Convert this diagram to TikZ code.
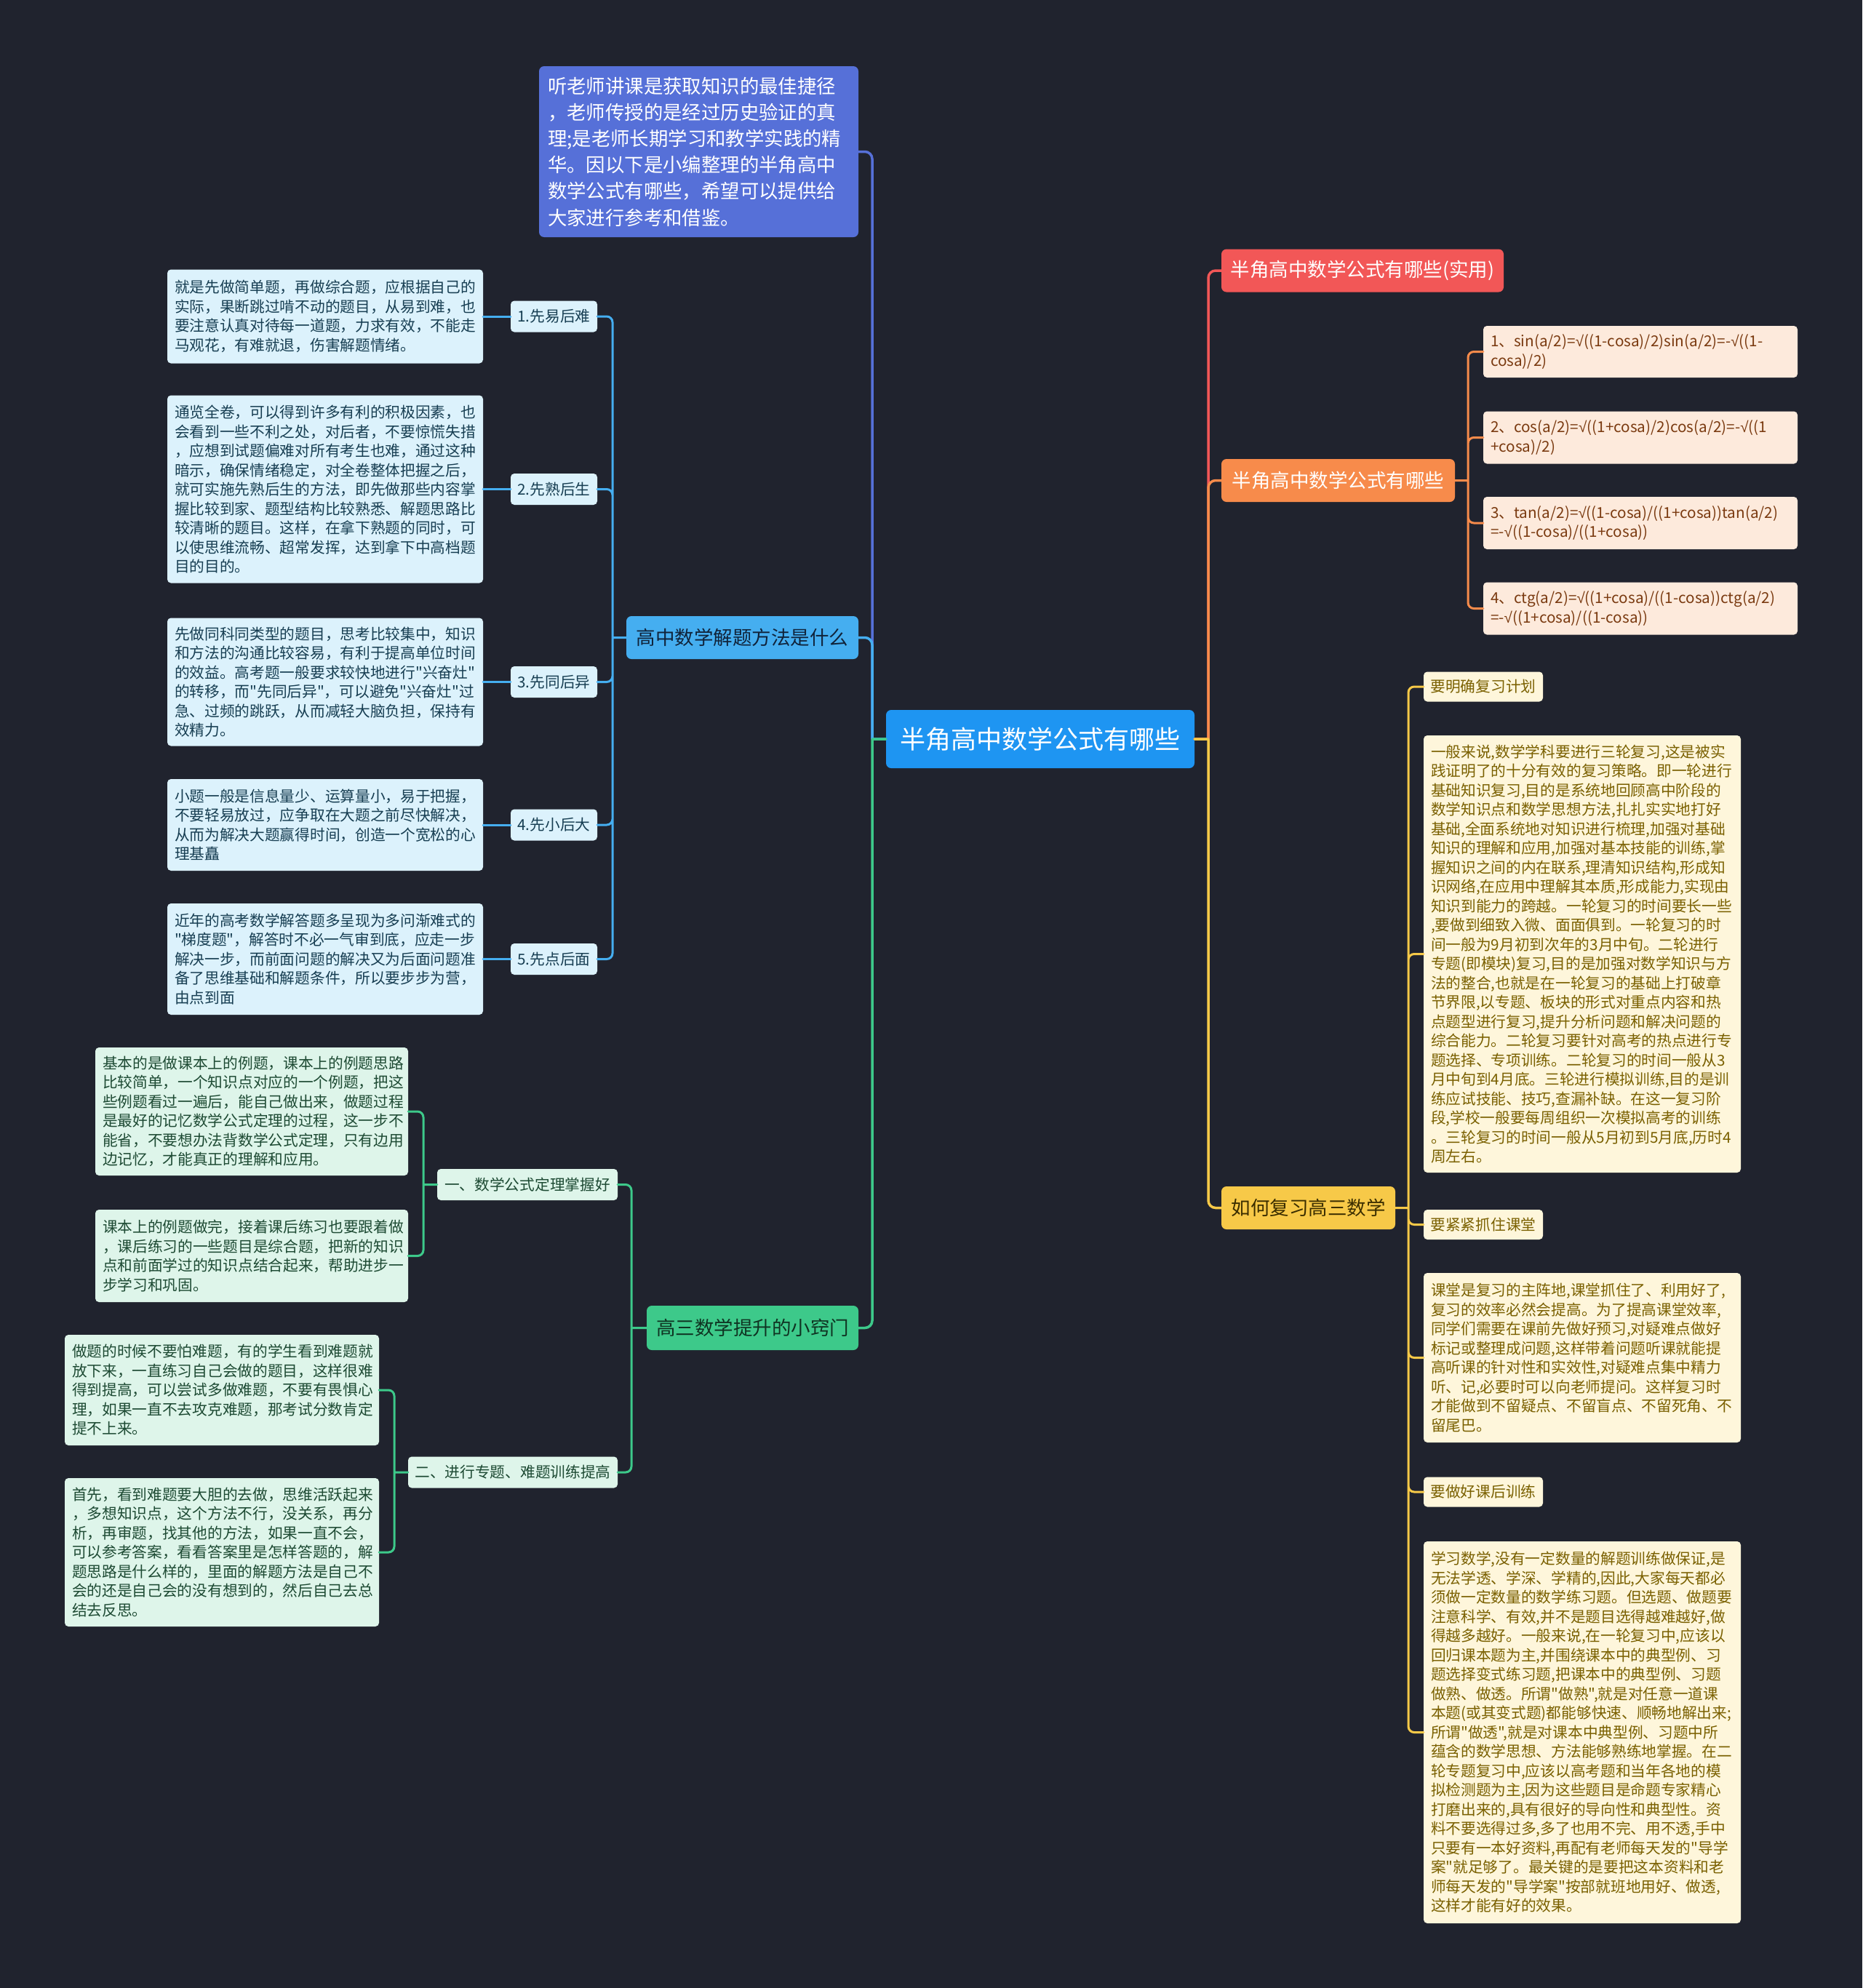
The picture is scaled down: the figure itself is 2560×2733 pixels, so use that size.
\documentclass[tikz,border=0pt]{standalone}
\usepackage{fontspec}
\setmainfont{Noto Sans CJK SC}[Ligatures=TeXOff]
\newfontfamily\rootfont{Liberation Sans}
\newcommand{\rt}{{\rootfont √}}
\parindent=0pt
\definecolor{bgc}{HTML}{20232E}
\definecolor{ctrblue}{HTML}{1E95F2}
\definecolor{introblue}{HTML}{5670D8}
\definecolor{skyblue}{HTML}{45AEF0}
\definecolor{skylight}{HTML}{DCF2FC}
\definecolor{skytext}{HTML}{173E52}
\definecolor{skydark}{HTML}{10233A}
\definecolor{mint}{HTML}{3DC98A}
\definecolor{mintlight}{HTML}{DEF5EA}
\definecolor{minttext}{HTML}{1D4A33}
\definecolor{mintdark}{HTML}{0F3322}
\definecolor{redc}{HTML}{F25757}
\definecolor{orangec}{HTML}{F78B4B}
\definecolor{peach}{HTML}{FDEADC}
\definecolor{peachtext}{HTML}{7A3A10}
\definecolor{yellowc}{HTML}{F7C948}
\definecolor{yellowdark}{HTML}{3B2E00}
\definecolor{cream}{HTML}{FEF6DB}
\definecolor{creamtext}{HTML}{7A6000}
\begin{document}
\begin{tikzpicture}[x=1pt, y=-1pt, line cap=round,
  box/.style={rounded corners=7pt, inner sep=0pt},
  ctrbox/.style={box, fill=ctrblue, text=white, font=\fontsize{35}{42}\selectfont, minimum width=424, minimum height=80},
  mainbox/.style={box, font=\fontsize{26.5}{32}\selectfont, minimum height=59},
  leafbox/.style={box, rounded corners=5pt, font=\fontsize{20.7}{26.5}\selectfont, minimum height=43},
  notebox/.style={box, rounded corners=5pt, font=\fontsize{20.7}{26.5}\selectfont, align=left, inner xsep=10pt},
  link/.style={line width=3.5pt, rounded corners=10pt},
  sublink/.style={line width=3pt, rounded corners=8pt}]
  \fill[bgc] (0,0) rectangle (2560,2733);
  \useasboundingbox (0,0) rectangle (2560,2733);

  \node[ctrbox] (ctr) at (1430,1016) {半角高中数学公式有哪些};

  % left side
  \node[box, fill=introblue, text=white, font=\fontsize{26.4}{36.2}\selectfont, align=left, inner xsep=12pt, text width=415pt, minimum height=235] (intro) at (960.5,208.5) {听老师讲课是获取知识的最佳捷径\\，老师传授的是经过历史验证的真\\理;是老师长期学习和教学实践的精\\华。因以下是小编整理的半角高中\\数学公式有哪些，希望可以提供给\\大家进行参考和借鉴。};
  \node[mainbox, fill=skyblue, text=skydark, minimum width=319] (solve) at (1020.5,876.5) {高中数学解题方法是什么};
  \node[mainbox, fill=mint, text=mintdark, minimum width=291, minimum height=61] (tips) at (1034.5,1825.5) {高三数学提升的小窍门};

  \node[leafbox, fill=skylight, text=skytext, minimum width=119] (s1) at (761.5,435) {1.先易后难};
  \node[leafbox, fill=skylight, text=skytext, minimum width=119] (s2) at (761.5,672.5) {2.先熟后生};
  \node[leafbox, fill=skylight, text=skytext, minimum width=119] (s3) at (761.5,937.5) {3.先同后异};
  \node[leafbox, fill=skylight, text=skytext, minimum width=119] (s4) at (761.5,1134) {4.先小后大};
  \node[leafbox, fill=skylight, text=skytext, minimum width=119] (s5) at (761.5,1318.5) {5.先点后面};

  \node[notebox, fill=skylight, text=skytext, text width=414pt, minimum height=129] (d1) at (447,435) {就是先做简单题，再做综合题，应根据自己的\\实际，果断跳过啃不动的题目，从易到难，也\\要注意认真对待每一道题，力求有效，不能走\\马观花，有难就退，伤害解题情绪。};
  \node[notebox, fill=skylight, text=skytext, text width=414pt, minimum height=258] (d2) at (447,672.5) {通览全卷，可以得到许多有利的积极因素，也\\会看到一些不利之处，对后者，不要惊慌失措\\，应想到试题偏难对所有考生也难，通过这种\\暗示，确保情绪稳定，对全卷整体把握之后，\\就可实施先熟后生的方法，即先做那些内容掌\\握比较到家、题型结构比较熟悉、解题思路比\\较清晰的题目。这样，在拿下熟题的同时，可\\以使思维流畅、超常发挥，达到拿下中高档题\\目的目的。};
  \node[notebox, fill=skylight, text=skytext, text width=414pt, minimum height=176] (d3) at (447,937.5) {先做同科同类型的题目，思考比较集中，知识\\和方法的沟通比较容易，有利于提高单位时间\\的效益。高考题一般要求较快地进行"兴奋灶"\\的转移，而"先同后异"，可以避免"兴奋灶"过\\急、过频的跳跃，从而减轻大脑负担，保持有\\效精力。};
  \node[notebox, fill=skylight, text=skytext, text width=414pt, minimum height=126] (d4) at (447,1134) {小题一般是信息量少、运算量小，易于把握，\\不要轻易放过，应争取在大题之前尽快解决，\\从而为解决大题赢得时间，创造一个宽松的心\\理基矗};
  \node[notebox, fill=skylight, text=skytext, text width=414pt, minimum height=153] (d5) at (447,1318.5) {近年的高考数学解答题多呈现为多问渐难式的\\"梯度题"，解答时不必一气审到底，应走一步\\解决一步，而前面问题的解决又为后面问题准\\备了思维基础和解题条件，所以要步步为营，\\由点到面};

  \node[leafbox, fill=mintlight, text=minttext, minimum width=248] (g1) at (725,1628.5) {一、数学公式定理掌握好};
  \node[leafbox, fill=mintlight, text=minttext, minimum width=288] (g2) at (705,2024) {二、进行专题、难题训练提高};
  \node[notebox, fill=mintlight, text=minttext, text width=410pt, minimum height=176] (ga) at (346,1528) {基本的是做课本上的例题，课本上的例题思路\\比较简单，一个知识点对应的一个例题，把这\\些例题看过一遍后，能自己做出来，做题过程\\是最好的记忆数学公式定理的过程，这一步不\\能省，不要想办法背数学公式定理，只有边用\\边记忆，才能真正的理解和应用。};
  \node[notebox, fill=mintlight, text=minttext, text width=410pt, minimum height=127] (gb) at (346,1726.5) {课本上的例题做完，接着课后练习也要跟着做\\，课后练习的一些题目是综合题，把新的知识\\点和前面学过的知识点结合起来，帮助进步一\\步学习和巩固。};
  \node[notebox, fill=mintlight, text=minttext, text width=412pt, minimum height=152] (gc) at (305,1911) {做题的时候不要怕难题，有的学生看到难题就\\放下来，一直练习自己会做的题目，这样很难\\得到提高，可以尝试多做难题，不要有畏惧心\\理，如果一直不去攻克难题，那考试分数肯定\\提不上来。};
  \node[notebox, fill=mintlight, text=minttext, text width=412pt, minimum height=204] (gd) at (305,2134) {首先，看到难题要大胆的去做，思维活跃起来\\，多想知识点，这个方法不行，没关系，再分\\析，再审题，找其他的方法，如果一直不会，\\可以参考答案，看看答案里是怎样答题的，解\\题思路是什么样的，里面的解题方法是自己不\\会的还是自己会的没有想到的，然后自己去总\\结去反思。};

  % right side
  \node[mainbox, fill=redc, text=white, minimum width=388] (red) at (1873,372) {半角高中数学公式有哪些(实用)};
  \node[mainbox, fill=orangec, text=white, minimum width=321] (orange) at (1839.5,660.5) {半角高中数学公式有哪些};
  \node[mainbox, fill=yellowc, text=yellowdark, minimum width=239] (yellow) at (1798.5,1660.5) {如何复习高三数学};

  \node[notebox, fill=peach, text=peachtext, text width=412pt, minimum height=71] (f1) at (2255,483.5) {1、sin(a/2)=\rt((1-cosa)/2)sin(a/2)=-\rt((1-\\cosa)/2)};
  \node[notebox, fill=peach, text=peachtext, text width=412pt, minimum height=72] (f2) at (2255,601.5) {2、cos(a/2)=\rt((1+cosa)/2)cos(a/2)=-\rt((1\\+cosa)/2)};
  \node[notebox, fill=peach, text=peachtext, text width=412pt, minimum height=72] (f3) at (2255,719) {3、tan(a/2)=\rt((1-cosa)/((1+cosa))tan(a/2)\\=-\rt((1-cosa)/((1+cosa))};
  \node[notebox, fill=peach, text=peachtext, text width=412pt, minimum height=72] (f4) at (2255,836.5) {4、ctg(a/2)=\rt((1+cosa)/((1-cosa))ctg(a/2)\\=-\rt((1+cosa)/((1-cosa))};

  \node[leafbox, fill=cream, text=creamtext, minimum width=164, minimum height=41] (y1) at (2039,944) {要明确复习计划};
  \node[leafbox, fill=cream, text=creamtext, minimum width=164, minimum height=41] (y2) at (2039,1683.5) {要紧紧抓住课堂};
  \node[leafbox, fill=cream, text=creamtext, minimum width=164, minimum height=41] (y3) at (2039,2051) {要做好课后训练};
  \node[notebox, fill=cream, text=creamtext, text width=416pt, minimum height=601] (n1) at (2175,1311.5) {一般来说,数学学科要进行三轮复习,这是被实\\践证明了的十分有效的复习策略。即一轮进行\\基础知识复习,目的是系统地回顾高中阶段的\\数学知识点和数学思想方法,扎扎实实地打好\\基础,全面系统地对知识进行梳理,加强对基础\\知识的理解和应用,加强对基本技能的训练,掌\\握知识之间的内在联系,理清知识结构,形成知\\识网络,在应用中理解其本质,形成能力,实现由\\知识到能力的跨越。一轮复习的时间要长一些\\,要做到细致入微、面面俱到。一轮复习的时\\间一般为9月初到次年的3月中旬。二轮进行\\专题(即模块)复习,目的是加强对数学知识与方\\法的整合,也就是在一轮复习的基础上打破章\\节界限,以专题、板块的形式对重点内容和热\\点题型进行复习,提升分析问题和解决问题的\\综合能力。二轮复习要针对高考的热点进行专\\题选择、专项训练。二轮复习的时间一般从3\\月中旬到4月底。三轮进行模拟训练,目的是训\\练应试技能、技巧,查漏补缺。在这一复习阶\\段,学校一般要每周组织一次模拟高考的训练\\。三轮复习的时间一般从5月初到5月底,历时4\\周左右。};
  \node[notebox, fill=cream, text=creamtext, text width=416pt, minimum height=233] (n2) at (2175,1866.5) {课堂是复习的主阵地,课堂抓住了、利用好了,\\复习的效率必然会提高。为了提高课堂效率,\\同学们需要在课前先做好预习,对疑难点做好\\标记或整理成问题,这样带着问题听课就能提\\高听课的针对性和实效性,对疑难点集中精力\\听、记,必要时可以向老师提问。这样复习时\\才能做到不留疑点、不留盲点、不留死角、不\\留尾巴。};
  \node[notebox, fill=cream, text=creamtext, text width=416pt, minimum height=525] (n3) at (2175,2381.5) {学习数学,没有一定数量的解题训练做保证,是\\无法学透、学深、学精的,因此,大家每天都必\\须做一定数量的数学练习题。但选题、做题要\\注意科学、有效,并不是题目选得越难越好,做\\得越多越好。一般来说,在一轮复习中,应该以\\回归课本题为主,并围绕课本中的典型例、习\\题选择变式练习题,把课本中的典型例、习题\\做熟、做透。所谓"做熟",就是对任意一道课\\本题(或其变式题)都能够快速、顺畅地解出来;\\所谓"做透",就是对课本中典型例、习题中所\\蕴含的数学思想、方法能够熟练地掌握。在二\\轮专题复习中,应该以高考题和当年各地的模\\拟检测题为主,因为这些题目是命题专家精心\\打磨出来的,具有很好的导向性和典型性。资\\料不要选得过多,多了也用不完、用不透,手中\\只要有一本好资料,再配有老师每天发的"导学\\案"就足够了。最关键的是要把这本资料和老\\师每天发的"导学案"按部就班地用好、做透,\\这样才能有好的效果。};

  % connectors
  \coordinate (tl) at (1199,1016);
  \coordinate (tr) at (1661,1016);
  \coordinate (ts) at (842,876.5);
  \coordinate (tg) at (868,1825.5);
  \coordinate (tg1) at (582,1628.5);
  \coordinate (tg2) at (542,2024);
  \coordinate (to) at (2018,660.5);
  \coordinate (ty) at (1936,1660.5);

  \draw[link, introblue] (ctr.west) -- (tl) (tl) |- (intro.east);
  \draw[link, skyblue] (ctr.west) -- (tl) (tl) |- (solve.east);
  \draw[link, mint] (ctr.west) -- (tl) (tl) |- (tips.east);
  \draw[link, redc] (ctr.east) -- (tr) (tr) |- (red.west);
  \draw[link, orangec] (ctr.east) -- (tr) (tr) |- (orange.west);
  \draw[link, yellowc] (ctr.east) -- (tr) (tr) |- (yellow.west);

  \draw[sublink, skyblue] (solve.west) -- (ts) (ts) |- (s1.east) (ts) |- (s2.east) (ts) |- (s3.east) (ts) |- (s4.east) (ts) |- (s5.east);
  \draw[sublink, skyblue] (s1.west) -- (d1.east) (s2.west) -- (d2.east) (s3.west) -- (d3.east) (s4.west) -- (d4.east) (s5.west) -- (d5.east);

  \draw[sublink, mint] (tips.west) -- (tg) (tg) |- (g1.east) (tg) |- (g2.east);
  \draw[sublink, mint] (g1.west) -- (tg1) (tg1) |- (ga.east) (tg1) |- (gb.east);
  \draw[sublink, mint] (g2.west) -- (tg2) (tg2) |- (gc.east) (tg2) |- (gd.east);

  \draw[sublink, orangec] (orange.east) -- (to) (to) |- (f1.west) (to) |- (f2.west) (to) |- (f3.west) (to) |- (f4.west);
  \draw[sublink, yellowc] (yellow.east) -- (ty) (ty) |- (y1.west) (ty) |- (n1.west) (ty) |- (y2.west) (ty) |- (n2.west) (ty) |- (y3.west) (ty) |- (n3.west);
\end{tikzpicture}
\end{document}
